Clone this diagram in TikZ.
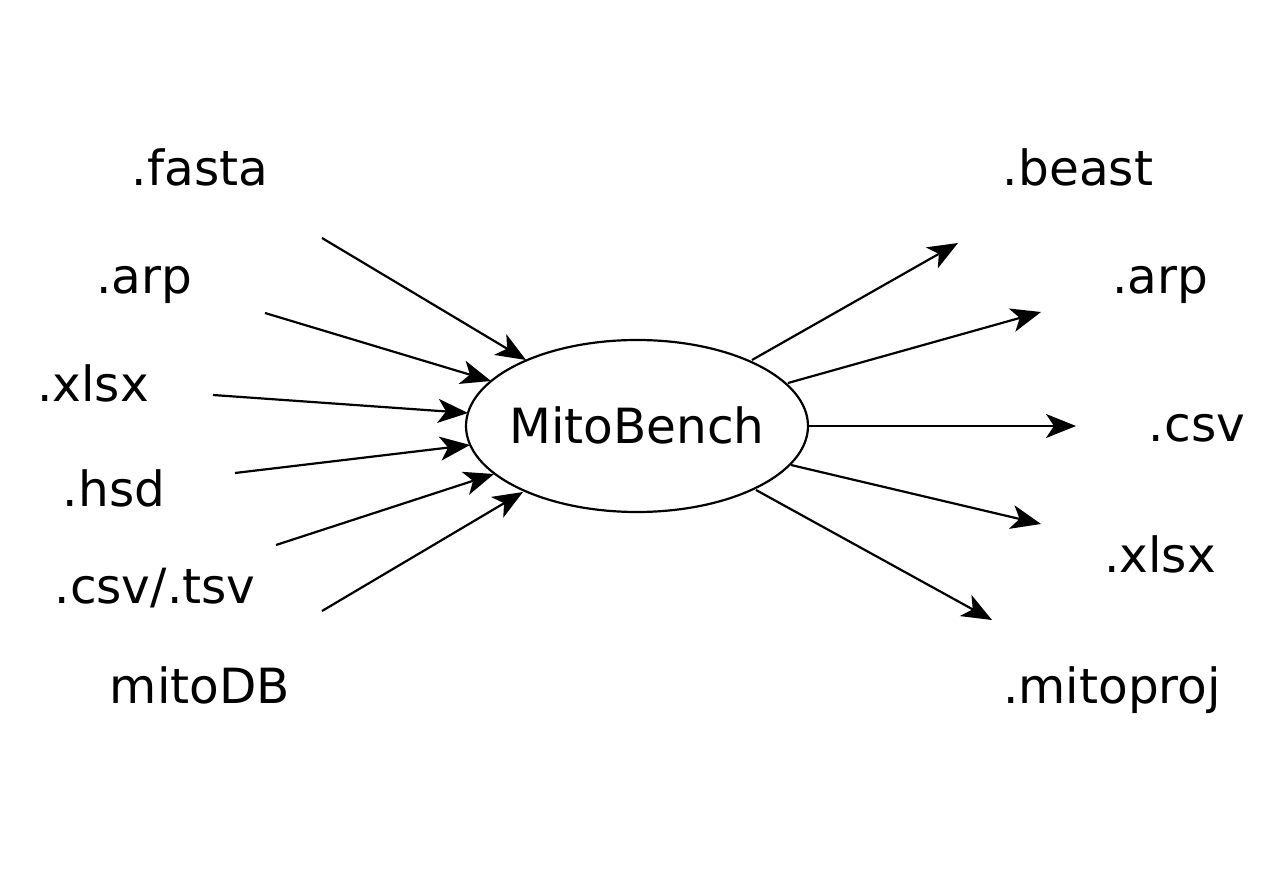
\documentclass[tikz,border=0pt]{standalone}
\usepackage{fontspec}
\setmainfont{DejaVu Sans}
\usetikzlibrary{arrows.meta,shapes.geometric}
\begin{document}
\begin{tikzpicture}[x=1pt,y=-1pt,
  lbl/.style={anchor=base,inner sep=0pt,font=\fontsize{48.5}{58}\selectfont},
  conn/.style={line width=2.2pt,-{Stealth[length=30pt,width=24pt,inset=8pt]}}]
\useasboundingbox (0,0) rectangle (1280,882);
\node[draw,line width=2.2pt,ellipse,minimum width=342pt,minimum height=172pt,inner sep=0pt] (mb) at (637,426) {};
\node[lbl] (mbt) at (637,443) {MitoBench};
% input labels
\node[lbl] (i1) at (200,186) {.fasta};
\node[lbl] (i2) at (144,294) {.arp};
\node[lbl] (i3) at (93,402) {.xlsx};
\node[lbl] (i4) at (114,506) {.hsd};
\node[lbl] (i5) at (155,603) {.csv/.tsv};
\node[lbl] (i6) at (200,703) {mitoDB};
% output labels
\node[lbl] (o1) at (1078,186) {.beast};
\node[lbl] (o2) at (1160,294) {.arp};
\node[lbl] (o3) at (1197,442) {.csv};
\node[lbl] (o4) at (1160,572) {.xlsx};
\node[lbl] (o5) at (1112,703) {.mitoproj};
% free ends
\coordinate (a1) at (322,238); \coordinate (b1) at (526,360);
\coordinate (a2) at (265,313); \coordinate (b2) at (491,381);
\coordinate (a3) at (213,395); \coordinate (b3) at (468,413);
\coordinate (a4) at (235,473); \coordinate (b4) at (470,445);
\coordinate (a5) at (276,545); \coordinate (b5) at (494,474);
\coordinate (a6) at (322,611); \coordinate (b6) at (523,492);
\coordinate (c1) at (752,360); \coordinate (d1) at (958,243);
\coordinate (c2) at (788,383); \coordinate (d2) at (1041,312);
\coordinate (c3) at (809,426); \coordinate (d3) at (1076,426);
\coordinate (c4) at (791,465); \coordinate (d4) at (1041,524);
\coordinate (c5) at (756,490); \coordinate (d5) at (992,620);
\foreach \i in {1,...,6} {\draw[conn] (a\i) -- (b\i);}
\foreach \i in {1,...,5} {\draw[conn] (c\i) -- (d\i);}
\end{tikzpicture}
\end{document}
